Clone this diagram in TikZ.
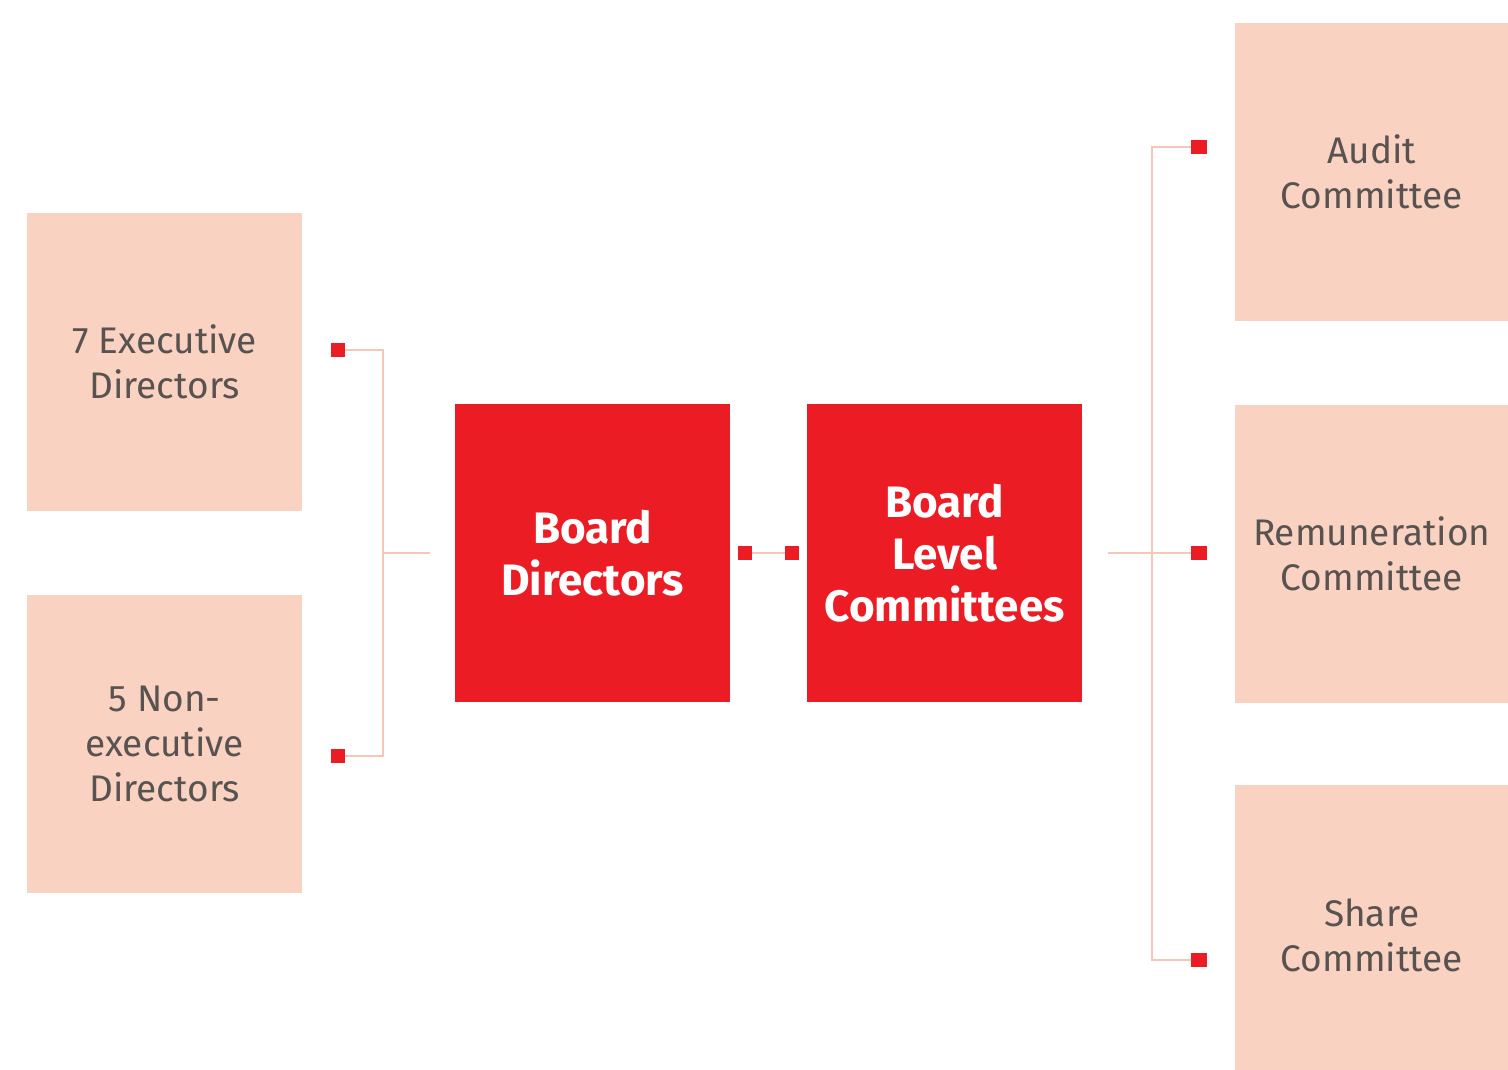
\documentclass[tikz,border=0pt]{standalone}
\usepackage{fontspec}
\setmainfont{Fira Sans}
\begin{document}
\begin{tikzpicture}[x=1pt,y=-1pt,
  lightbox/.style={fill=peach,draw=none,minimum width=275pt,minimum height=298pt,
    text=txtgray,align=center,font=\fontsize{37}{45}\selectfont,anchor=north west,inner sep=0pt},
  redbox/.style={fill=boardred,draw=none,minimum width=275pt,minimum height=298pt,
    text=white,align=center,font=\fontsize{44}{52}\selectfont\bfseries,anchor=north west,inner sep=0pt},
  dot/.style={fill=boardred,draw=none,minimum width=14pt,minimum height=14pt,inner sep=0pt},
  link/.style={draw=linkpeach,line width=2pt}]
\definecolor{peach}{HTML}{F9D2C2}
\definecolor{boardred}{HTML}{EC1C24}
\definecolor{txtgray}{HTML}{585250}
\definecolor{linkpeach}{HTML}{F6C7B7}
\useasboundingbox[fill=white] (0,0) rectangle (1508,1069);

% member boxes
\node[lightbox] (exec) at (27,213) {7 Executive\\Directors};
\node[lightbox] (nonexec) at (27,595) {5 Non-\\executive\\Directors};
% central boxes
\node[redbox] (board) at (455,404) {Board\\Directors};
\node[redbox] (blc) at (807,404) {Board\\Level\\Committees};
% committee boxes
\node[lightbox,minimum width=273pt] (audit) at (1235,23) {Audit\\Committee};
\node[lightbox,minimum width=273pt] (remun) at (1235,405) {Remuneration\\Committee};
\node[lightbox,minimum width=273pt,minimum height=300pt] (share) at (1235,785) {Share\\Committee};

% connector dots
\node[dot] (d1) at (338,350) {};
\node[dot] (d2) at (338,756) {};
\node[dot] (m1) at (745,553) {};
\node[dot] (m2) at (792,553) {};
\node[dot,minimum width=16pt] (r1) at (1199,147) {};
\node[dot,minimum width=16pt] (r2) at (1199,553) {};
\node[dot,minimum width=16pt] (r3) at (1199,960) {};

\coordinate (lj) at (383,553);
\coordinate (le) at (430,553);
\coordinate (rj) at (1152,553);
\coordinate (rs) at (1108,553);

% left bracket
\draw[link] (d1.east) -| (lj) |- (d2.east);
\draw[link] (lj) -- (le);
% middle link
\draw[link,line width=1.5pt] (m1.east) -- (m2.west);
% right bracket
\draw[link] (r1.west) -| (rj) |- (r3.west);
\draw[link] (rs) -- (r2.west);
\end{tikzpicture}
\end{document}
